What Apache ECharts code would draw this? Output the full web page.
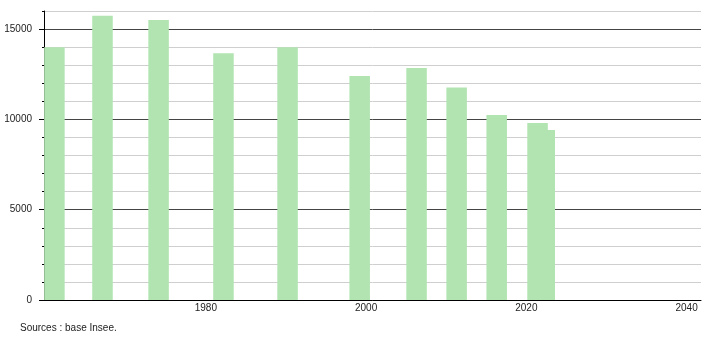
<!DOCTYPE html>
<html>
<head>
<meta charset="utf-8">
<script src="https://cdn.jsdelivr.net/npm/echarts@6/dist/echarts.min.js"></script>
<style>
html,body{margin:0;padding:0;background:#fff;}
#chart{width:710px;height:340px;}
</style>
</head>
<body>
<div id="chart"></div>
<script>
// Data
const years = [1961.1, 1967.1, 1974.1, 1982.2, 1990.2, 1999.2, 2006.3, 2011.3, 2016.3, 2021.4, 2022.3];
const population = [14000, 15740, 15500, 13660, 14000, 12400, 12850, 11760, 10240, 9800, 9410];
const yTickLabels = [0, 5000, 10000, 15000];
const xTickLabels = [1980, 2000, 2020, 2040];
const sourceText = 'Sources : base Insee.';

const chart = echarts.init(document.getElementById('chart'), null, {renderer: 'canvas'});
const font = 'Liberation Sans, Arial, sans-serif';
chart.setOption({
  animation: false,
  backgroundColor: '#ffffff',
  title: {
    text: sourceText,
    left: 20, top: 323, padding: 0,
    textStyle: {fontSize: 10, fontWeight: 'normal', color: '#222', fontFamily: font}
  },
  grid: {left: 44, right: 9, top: 11, bottom: 40, containLabel: false, outerBoundsMode: 'none'},
  xAxis: {
    type: 'value',
    min: 1959.8, max: 2041.8,
    axisLine: {show: true, lineStyle: {color: '#000', width: 1}},
    axisTick: {show: false},
    splitLine: {show: false},
    axisLabel: {
      customValues: xTickLabels,
      margin: 3, fontSize: 10, color: '#222', fontFamily: font,
      formatter: v => String(v)
    }
  },
  yAxis: [{
    type: 'value',
    min: 0, max: 16000, interval: 1000,
    axisLine: {show: true, lineStyle: {color: '#000', width: 1}},
    axisTick: {show: true, length: 2, lineStyle: {color: '#000'}},
    splitLine: {show: true, lineStyle: {color: ['#444', '#cfcfcf', '#cfcfcf', '#cfcfcf', '#cfcfcf'], width: 1}},
    axisLabel: {
      margin: 12, fontSize: 10, color: '#222', fontFamily: font,
      formatter: v => (yTickLabels.indexOf(v) >= 0 ? String(v) : '')
    }
  }, {
    type: 'value',
    position: 'left',
    min: 0, max: 16000, interval: 5000,
    axisLine: {show: false},
    axisTick: {show: true, length: 5, customValues: yTickLabels, lineStyle: {color: '#000'}},
    splitLine: {show: false},
    axisLabel: {show: false}
  }],
  series: [{
    type: 'bar',
    yAxisIndex: 0,
    barWidth: 20.5,
    itemStyle: {color: '#b1e4b1'},
    data: years.map((y, i) => [y, population[i]])
  }]
});
</script>
</body>
</html>
